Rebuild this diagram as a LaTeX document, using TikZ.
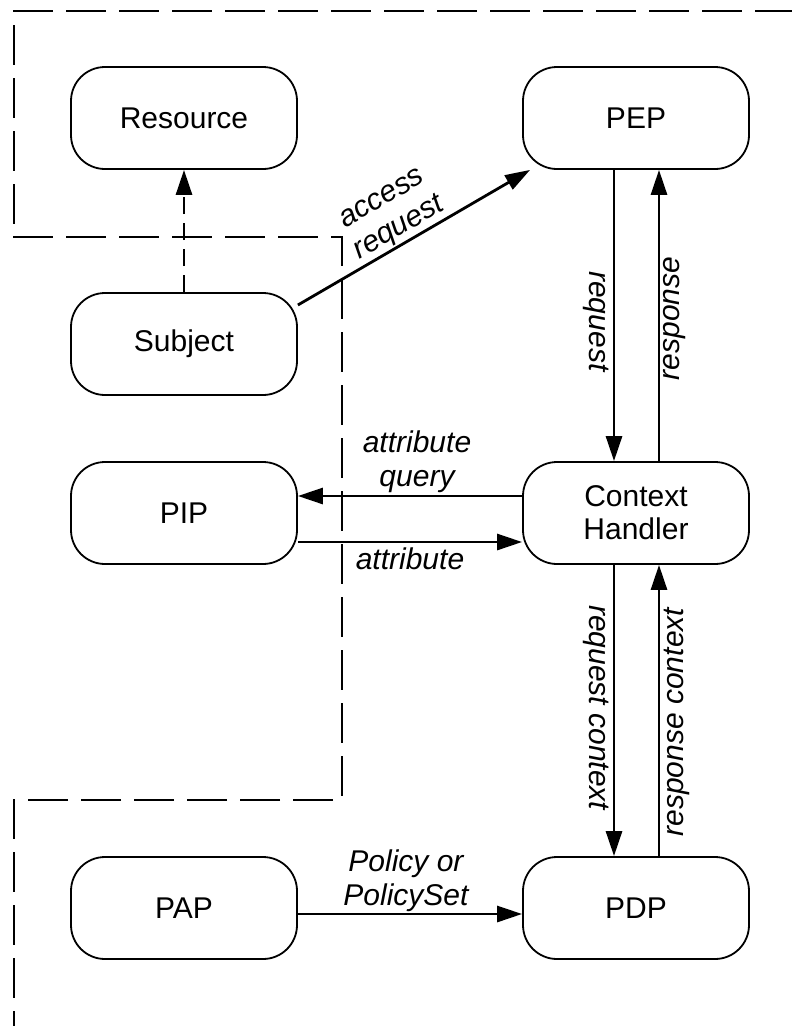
\documentclass[tikz,border=0pt]{standalone}
\usepackage{fontspec}
\setmainfont{Liberation Sans}
\usetikzlibrary{arrows.meta}
\begin{document}
\begin{tikzpicture}[x=1pt,y=-1pt,
  box/.style={draw, line width=1.8pt, rounded corners=34pt, minimum width=226pt, minimum height=102pt, align=center, font=\fontsize{30}{33}\selectfont},
  conn/.style={line width=2.8pt, -{Triangle[length=25pt,width=16pt]}},
  lab/.style={font=\fontsize{30}{34}\selectfont\itshape, align=center},
  boundary/.style={line width=1.8pt, dash pattern=on 40pt off 13pt}
]
\useasboundingbox (0,0) rectangle (792,1026);

% trust boundary
\draw[boundary] (13,11) -- (792,11);
\draw[boundary] (14,25) -- (14,224);
\draw[boundary] (13,237) -- (342,237) -- (342,800) -- (14,800) -- (14,1026);

% nodes
\node[box] (res) at (184,118) {Resource};
\node[box] (pep) at (636,118) {PEP};
\node[box] (subj) at (184,344) {Subject};
\node[box] (pip) at (184,513) {PIP};
\node[box] (ch) at (636,513) {Context\\Handler};
\node[box] (pap) at (184,908) {PAP};
\node[box] (pdp) at (636,908) {PDP};

% connectors
\draw[conn, dash pattern=on 17pt off 9pt] (subj.north) -- (res.south);
\draw[conn] (subj.east |- 0,305) -- ([xshift=8pt]pep.south west)
  node[lab, sloped, above, pos=0.47, inner sep=1pt] {access\\request};
\draw[conn] ([xshift=-22pt]pep.south) -- ([xshift=-22pt]ch.north)
  node[lab, rotate=-90, anchor=north, pos=0.52] {request};
\draw[conn] ([xshift=23pt]ch.north) -- ([xshift=23pt]pep.south)
  node[lab, rotate=90, anchor=north, pos=0.49] {response};
\draw[conn] ([yshift=17pt]ch.west) -- ([yshift=17pt]pip.east)
  node[lab, above, midway, inner sep=2pt, xshift=7pt] {attribute\\query};
\draw[conn] ([yshift=-29pt]pip.east) -- ([yshift=-29pt]ch.west)
  node[lab, below, midway, inner sep=4pt] {attribute};
\draw[conn] ([xshift=-22pt]ch.south) -- ([xshift=-22pt]pdp.north)
  node[lab, rotate=-90, anchor=north, pos=0.49] {request context};
\draw[conn] ([xshift=23pt]pdp.north) -- ([xshift=23pt]ch.south)
  node[lab, rotate=90, anchor=north, pos=0.46] {response context};
\draw[conn] ([yshift=-6pt]pap.east) -- ([yshift=-6pt]pdp.west)
  node[lab, above, midway, inner sep=1pt, xshift=-4pt] {Policy or\\PolicySet};
\end{tikzpicture}
\end{document}
